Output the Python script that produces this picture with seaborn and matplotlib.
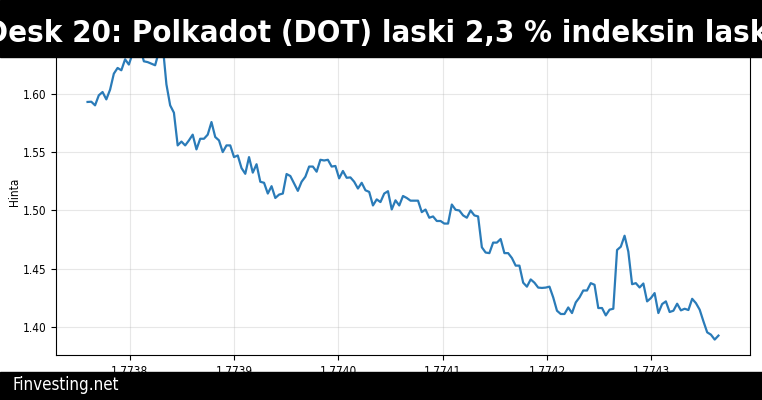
import numpy as np
import pandas as pd
import matplotlib
matplotlib.use("Agg")
import matplotlib.pyplot as plt
import seaborn as sns
from matplotlib.patches import Rectangle

# Hourly DOT price, one week
start_ts = 1773759600
step_s = 3600
hinta = [
    1.5929, 1.5931, 1.5900, 1.5986, 1.6014, 1.5951, 1.6034, 1.6171, 1.6220, 1.6200,
    1.6294, 1.6249, 1.6345, 1.6400, 1.6390, 1.6277, 1.6270, 1.6257, 1.6243, 1.6360,
    1.6420, 1.6080, 1.5900, 1.5837, 1.5557, 1.5590, 1.5557, 1.5600, 1.5649, 1.5523,
    1.5614, 1.5614, 1.5649, 1.5757, 1.5629, 1.5600, 1.5500, 1.5557, 1.5557, 1.5457,
    1.5471, 1.5363, 1.5314, 1.5457, 1.5324, 1.5396, 1.5246, 1.5237, 1.5145, 1.5208,
    1.5107, 1.5136, 1.5145, 1.5312, 1.5295, 1.5231, 1.5168, 1.5246, 1.5289, 1.5376,
    1.5376, 1.5332, 1.5434, 1.5428, 1.5434, 1.5376, 1.5381, 1.5275, 1.5338, 1.5280,
    1.5283, 1.5246, 1.5188, 1.5237, 1.5173, 1.5159, 1.5043, 1.5095, 1.5072, 1.5145,
    1.5165, 1.5009, 1.5087, 1.5043, 1.5124, 1.5107, 1.5084, 1.5084, 1.5084, 1.4986,
    1.5008, 1.4938, 1.4949, 1.4910, 1.4910, 1.4888, 1.4888, 1.5051, 1.5006, 1.5000,
    1.4958, 1.4938, 1.5000, 1.4958, 1.4949, 1.4685, 1.4640, 1.4635, 1.4725, 1.4725,
    1.4756, 1.4635, 1.4635, 1.4593, 1.4528, 1.4528, 1.4382, 1.4348, 1.4410, 1.4382,
    1.4340, 1.4337, 1.4340, 1.4348, 1.4256, 1.4142, 1.4114, 1.4114, 1.4170, 1.4122,
    1.4213, 1.4256, 1.4315, 1.4315, 1.4378, 1.4364, 1.4165, 1.4165, 1.4102, 1.4151,
    1.4159, 1.4662, 1.4690, 1.4784, 1.4648, 1.4369, 1.4378, 1.4341, 1.4375, 1.4222,
    1.4250, 1.4293, 1.4122, 1.4199, 1.4222, 1.4131, 1.4142, 1.4202, 1.4145, 1.4159,
    1.4148, 1.4244, 1.4207, 1.4151, 1.4051, 1.3957, 1.3937, 1.3895, 1.3929,
]
aika = start_ts + step_s * np.arange(len(hinta))

otsikko = "Desk 20: Polkadot (DOT) laski 2,3 % indeksin laskiessa"
lahde = "Finvesting.net"

# kapeampi fontti kuten alkuperäisessä
plt.rcParams["font.family"] = "DejaVu Sans"
plt.rcParams["font.stretch"] = "condensed"

df = pd.DataFrame({"aika": aika, "hinta": hinta})

fig = plt.figure(figsize=(7.62, 4), dpi=100)
ax = fig.add_axes([56 / 762, 45 / 400, 694 / 762, 0.814])

sns.lineplot(data=df, x="aika", y="hinta", ax=ax, color="#2a7bb8", linewidth=1.6)
ax.set_ylim(1.3763, 1.655)
ax.grid(True, alpha=0.3)
ax.set_xlabel("")
ax.set_ylabel("Hinta", fontsize=8.5, labelpad=1)
ax.tick_params(labelsize=8.5)

# mustat palkit ylä- ja alareunaan
fig.patches.append(Rectangle((0, 1 - 57 / 400), 1, 57 / 400, transform=fig.transFigure,
                             color="black", zorder=5))
fig.patches.append(Rectangle((0, 0), 1, 28 / 400, transform=fig.transFigure,
                             color="black", zorder=5))
fig.text(-15 / 762, 1 - 34 / 400, otsikko, color="white", fontsize=22.3,
         fontweight="bold", ha="left", va="center", zorder=6)
fig.text(12 / 762, 15 / 400, lahde, color="white", fontsize=12.2,
         ha="left", va="center", zorder=6)

fig.savefig("out.png", dpi=100)
